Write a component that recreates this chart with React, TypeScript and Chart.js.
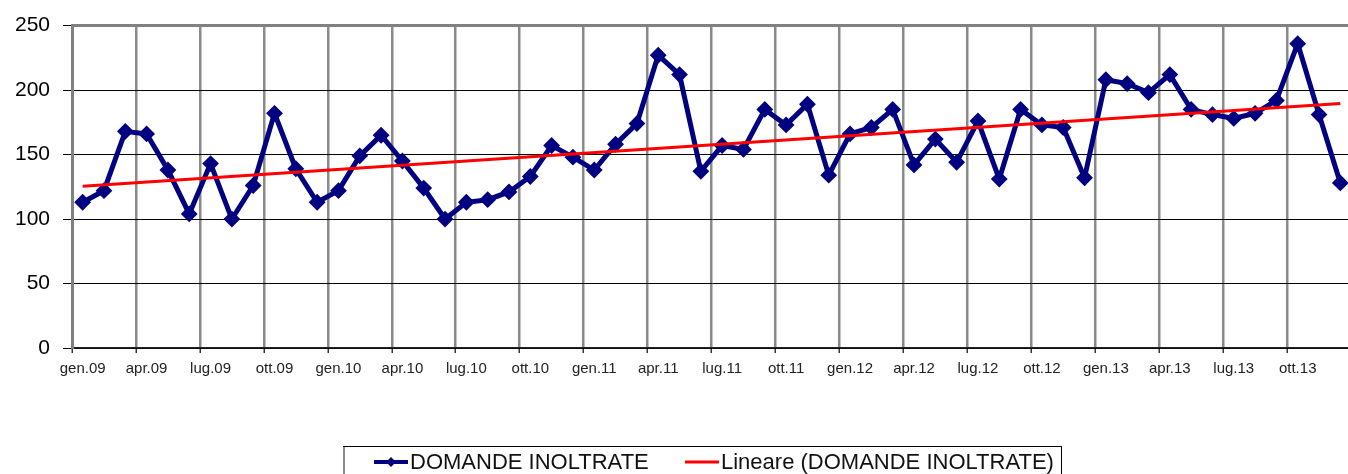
import React, { useEffect, useRef } from 'react';
import { Chart, registerables } from 'chart.js';

Chart.register(...registerables);

const MONTHS = ['gen', 'feb', 'mar', 'apr', 'mag', 'giu', 'lug', 'ago', 'set', 'ott', 'nov', 'dic'];
const YEARS = ['09', '10', '11', '12', '13'];
const CATEGORIES = YEARS.flatMap((y) => MONTHS.map((m) => `${m}.${y}`));

const DOMANDE_INOLTRATE = [
  113, 122, 168, 166, 138, 104, 143, 100, 126, 182, 139, 113,
  122, 149, 165, 145, 124, 100, 113, 115, 121, 133, 157, 148,
  138, 158, 174, 227, 212, 137, 157, 154, 185, 173, 189, 134,
  166, 171, 185, 142, 162, 144, 176, 131, 185, 173, 171, 132,
  208, 205, 198, 212, 185, 181, 178, 182, 192, 236, 181, 128,
];

const TREND_START = 125.5;
const TREND_END = 189.5;

const Y_MIN = 0;
const Y_MAX = 250;
const Y_STEP = 50;

const SERIES_LABEL = 'DOMANDE INOLTRATE';
const TREND_LABEL = 'Lineare (DOMANDE INOLTRATE)';

const NAVY = '#000080';
const RED = '#ff0000';
const FONT = '"Liberation Sans", Arial, Helvetica, sans-serif';

const trendData = CATEGORIES.map((_, i) =>
  i === 0 ? TREND_START : i === CATEGORIES.length - 1 ? TREND_END : null
);

const boxLegend = {
  id: 'boxLegend',
  afterDraw(chart: any) {
    const ctx = chart.ctx as CanvasRenderingContext2D;
    ctx.save();
    ctx.strokeStyle = '#000';
    ctx.lineWidth = 1;
    ctx.strokeRect(343.5, 446.5, 718, 40);
    ctx.strokeStyle = '#888';
    ctx.lineWidth = 2;
    ctx.beginPath();
    ctx.moveTo(344, 447);
    ctx.lineTo(344, 474);
    ctx.stroke();

    const cy = 462;
    ctx.strokeStyle = NAVY;
    ctx.lineWidth = 4;
    ctx.beginPath();
    ctx.moveTo(374, cy);
    ctx.lineTo(408, cy);
    ctx.stroke();
    ctx.fillStyle = NAVY;
    ctx.beginPath();
    ctx.moveTo(391, cy - 5);
    ctx.lineTo(396, cy);
    ctx.lineTo(391, cy + 5);
    ctx.lineTo(386, cy);
    ctx.closePath();
    ctx.fill();

    ctx.fillStyle = '#111';
    ctx.font = `22px ${FONT}`;
    ctx.textBaseline = 'middle';
    ctx.textAlign = 'left';
    ctx.fillText(SERIES_LABEL, 410, cy + 1);

    ctx.strokeStyle = RED;
    ctx.lineWidth = 3;
    ctx.beginPath();
    ctx.moveTo(685, cy);
    ctx.lineTo(719, cy);
    ctx.stroke();
    ctx.fillStyle = '#111';
    ctx.fillText(TREND_LABEL, 721, cy + 1);
    ctx.restore();
  },
};

export default function App() {
  const ref = useRef<HTMLCanvasElement | null>(null);

  useEffect(() => {
    if (!ref.current) return;
    const chart = new Chart(ref.current, {
      type: 'line',
      data: {
        labels: CATEGORIES,
        datasets: [
          {
            label: SERIES_LABEL,
            data: DOMANDE_INOLTRATE,
            borderColor: NAVY,
            backgroundColor: NAVY,
            borderWidth: 5,
            pointStyle: 'rectRot',
            pointRadius: 7,
            pointBorderWidth: 2,
            pointBackgroundColor: NAVY,
            pointBorderColor: NAVY,
            tension: 0,
            order: 2,
          },
          {
            label: TREND_LABEL,
            data: trendData,
            borderColor: RED,
            backgroundColor: RED,
            borderWidth: 3,
            pointRadius: 0,
            spanGaps: true,
            tension: 0,
            order: 1,
          },
        ],
      },
      options: {
        responsive: false,
        animation: false,
        layout: { padding: { top: 24, right: 4, bottom: 86, left: 0 } },
        plugins: {
          legend: { display: false },
          tooltip: { enabled: false },
        },
        scales: {
          x: {
            type: 'category',
            offset: true,
            afterFit(scale: any) {
              scale.height = 40;
            },
            border: { display: true, color: '#222', width: 1.5 },
            grid: {
              offset: true,
              drawTicks: true,
              tickLength: 5,
              color: (c: any) => (c.index % 3 === 0 ? '#8a8a8a' : 'rgba(0,0,0,0)'),
              lineWidth: 2.5,
              tickColor: (c: any) => (c.index % 3 === 0 ? '#333' : 'rgba(0,0,0,0)'),
              tickWidth: 1.5,
            },
            ticks: {
              autoSkip: false,
              maxRotation: 0,
              minRotation: 0,
              padding: 7,
              color: '#222',
              font: { family: FONT, size: 15 },
              callback: (_v: any, i: number) => (i % 3 === 0 ? CATEGORIES[i] : ''),
            },
          },
          y: {
            min: Y_MIN,
            max: Y_MAX,
            afterFit(scale: any) {
              scale.width = 72;
            },
            border: { display: true, color: '#808080', width: 3 },
            grid: {
              drawTicks: true,
              tickLength: 9,
              color: (c: any) => (c.tick && c.tick.value === Y_MAX ? '#808080' : '#000'),
              lineWidth: (c: any) => (c.tick && c.tick.value === Y_MAX ? 3 : 1),
              tickColor: '#000',
              tickWidth: 1,
            },
            ticks: {
              stepSize: Y_STEP,
              padding: 13,
              color: '#000',
              font: { family: FONT, size: 21 },
            },
          },
        },
      },
      plugins: [boxLegend],
    });
    return () => chart.destroy();
  }, []);

  return (
    <div style={{ position: 'absolute', left: 0, top: 0, width: 1348, height: 474, overflow: 'hidden', background: '#fff' }}>
      <canvas ref={ref} width={1360} height={474} style={{ display: 'block', width: 1360, height: 474 }} />
    </div>
  );
}
